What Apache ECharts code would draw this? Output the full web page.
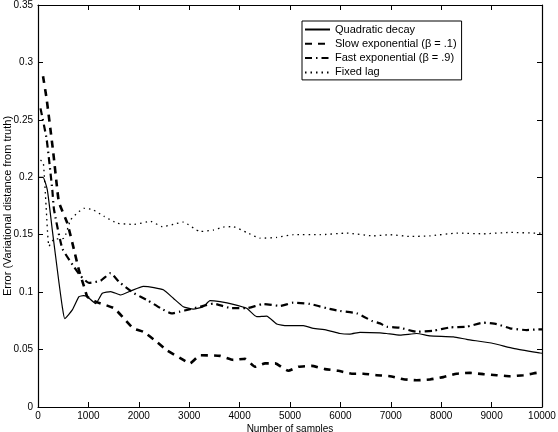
<!DOCTYPE html>
<html>
<head>
<meta charset="utf-8">
<script src="https://cdn.jsdelivr.net/npm/echarts@6/dist/echarts.min.js"></script>
<style>html,body{margin:0;padding:0;background:#fff}#c{width:558px;height:432px}</style>
</head>
<body>
<div id="c"></div>
<script>
var seriesNames = ['Quadratic decay', 'Slow exponential (\u03b2 = .1)', 'Fast exponential (\u03b2 = .9)', 'Fixed lag'];

var quadX = [0, 100, 185, 284, 350, 417, 483, 530, 681, 813, 900, 979, 1144, 1276, 1441, 1640, 1839, 2090, 2300, 2487, 2685, 2883, 3081, 3280, 3413, 3611, 3875, 4140, 4339, 4537, 4736, 4934, 5265, 5463, 5728, 5992, 6190, 6389, 6786, 6918, 7183, 7513, 7778, 8241, 8506, 9034, 9431, 9960, 10000];
var quadY = [0.2, 0.2, 0.189, 0.154, 0.131, 0.108, 0.087, 0.077, 0.0845, 0.096, 0.097, 0.096, 0.090, 0.099, 0.1005, 0.0975, 0.101, 0.105, 0.104, 0.102, 0.0947, 0.0873, 0.0853, 0.0873, 0.0926, 0.0917, 0.0894, 0.0859, 0.0786, 0.0792, 0.0722, 0.0708, 0.0708, 0.0685, 0.067, 0.064, 0.0635, 0.065, 0.0646, 0.064, 0.0626, 0.064, 0.062, 0.0611, 0.0589, 0.0553, 0.051, 0.047, 0.0468];

var slowX = [100, 172, 304, 383, 417, 582, 714, 813, 913, 979, 1144, 1508, 1706, 1891, 2090, 2355, 2554, 2883, 3016, 3214, 3611, 3875, 4107, 4306, 4505, 4704, 4967, 5165, 5430, 5694, 5959, 6224, 6455, 6720, 6984, 7249, 7513, 7778, 8042, 8307, 8571, 8836, 9101, 9365, 9630, 9894, 10000];
var slowY = [0.288, 0.268, 0.221, 0.189, 0.178, 0.16, 0.137, 0.119, 0.105, 0.096, 0.0917, 0.086, 0.077, 0.0685, 0.0655, 0.0568, 0.0495, 0.041, 0.038, 0.045, 0.0445, 0.041, 0.042, 0.035, 0.038, 0.038, 0.0315, 0.035, 0.0358, 0.033, 0.0315, 0.029, 0.029, 0.0277, 0.0268, 0.0242, 0.0233, 0.024, 0.026, 0.029, 0.0297, 0.0286, 0.0277, 0.0268, 0.0277, 0.0297, 0.03];

var fastX = [50, 172, 284, 317, 483, 714, 847, 1012, 1243, 1441, 1607, 1905, 2169, 2434, 2650, 2817, 3000, 3214, 3479, 3843, 4140, 4471, 4802, 5066, 5397, 5728, 5992, 6323, 6621, 6786, 6918, 7183, 7513, 7844, 8175, 8506, 8836, 9101, 9365, 9696, 9927, 10000];
var fastY = [0.26, 0.233, 0.189, 0.172, 0.138, 0.122, 0.114, 0.108, 0.11, 0.1165, 0.109, 0.099, 0.093, 0.086, 0.0815, 0.083, 0.085, 0.0873, 0.090, 0.086, 0.086, 0.0897, 0.088, 0.0908, 0.0897, 0.086, 0.0836, 0.0816, 0.0751, 0.0728, 0.0699, 0.069, 0.0655, 0.0664, 0.0693, 0.0699, 0.0734, 0.0722, 0.0685, 0.067, 0.0676, 0.0676];

var lagX = [50, 106, 160, 218, 317, 516, 648, 780, 913, 1078, 1310, 1574, 1905, 2236, 2467, 2685, 2883, 3214, 3479, 3677, 3875, 4140, 4405, 4736, 5066, 5595, 6124, 6653, 6984, 7381, 7778, 8307, 8836, 9365, 9894, 10000];
var lagY = [0.215, 0.2126, 0.175, 0.14, 0.146, 0.147, 0.163, 0.169, 0.173, 0.172, 0.166, 0.16, 0.159, 0.1616, 0.157, 0.159, 0.161, 0.1528, 0.154, 0.1567, 0.157, 0.152, 0.147, 0.1476, 0.15, 0.15, 0.1514, 0.149, 0.15, 0.1485, 0.149, 0.1514, 0.1508, 0.152, 0.1514, 0.1514];

var xTicks = [0, 1000, 2000, 3000, 4000, 5000, 6000, 7000, 8000, 9000, 10000];
var yTicks = [0, 0.05, 0.1, 0.15, 0.2, 0.25, 0.3, 0.35];

function pairs(xs, ys) { return xs.map(function (x, i) { return [x, ys[i]]; }); }

var FONT = 'Liberation Sans';
var lineStyles = [
  { color: '#000', width: 1.2, type: 'solid' },
  { color: '#000', width: 2.6, type: [7, 6] },
  { color: '#000', width: 2.2, type: [7, 4, 1.5, 4] },
  { color: '#000', width: 1.3, type: [1.5, 4] }
];
var datasets = [pairs(quadX, quadY), pairs(slowX, slowY), pairs(fastX, fastY), pairs(lagX, lagY)];

function axisCommon(show) {
  return {
    type: 'value',
    axisLine: { show: true, onZero: false, lineStyle: { color: '#000', width: 1.2 } },
    axisTick: { show: true, inside: true, length: 5, lineStyle: { color: '#000', width: 1 } },
    splitLine: { show: false },
    axisLabel: { show: show, color: '#000', fontFamily: FONT, fontSize: 10 }
  };
}

var xMain = axisCommon(true);
xMain.min = xTicks[0]; xMain.max = xTicks[xTicks.length - 1]; xMain.interval = 1000;
xMain.position = 'bottom';
xMain.axisLabel.margin = 4;
xMain.axisLabel.formatter = function (v) { return String(v); };
xMain.name = 'Number of samples';
xMain.nameLocation = 'middle';
xMain.nameGap = 17;
xMain.nameMoveOverlap = false;
xMain.nameTextStyle = { color: '#000', fontFamily: FONT, fontSize: 10 };

var xTop = axisCommon(false);
xTop.min = xTicks[0]; xTop.max = xTicks[xTicks.length - 1]; xTop.interval = 1000;
xTop.position = 'top';

var yMain = axisCommon(true);
yMain.min = yTicks[0]; yMain.max = yTicks[yTicks.length - 1]; yMain.interval = 0.05;
yMain.position = 'left';
yMain.axisLabel.margin = 5;
yMain.axisLabel.formatter = function (v) { return String(+v.toFixed(2)); };
yMain.name = 'Error (Variational distance from truth)';
yMain.nameLocation = 'middle';
yMain.nameGap = 25;
yMain.nameMoveOverlap = false;
yMain.nameTextStyle = { color: '#000', fontFamily: FONT, fontSize: 11 };

var yRight = axisCommon(false);
yRight.min = yTicks[0]; yRight.max = yTicks[yTicks.length - 1]; yRight.interval = 0.05;
yRight.position = 'right';

var chart = echarts.init(document.getElementById('c'), null, { renderer: 'canvas' });
chart.setOption({
  animation: false,
  backgroundColor: '#fff',
  grid: { left: 38, right: 16, top: 5, bottom: 25, containLabel: false, outerBoundsMode: 'none' },
  legend: {
    orient: 'vertical',
    left: 302,
    top: 21,
    padding: [3, 5, 2, 2],
    itemGap: 3.3,
    itemWidth: 25,
    itemHeight: 10.5,
    borderColor: '#000',
    borderWidth: 1,
    backgroundColor: '#fff',
    itemStyle: { opacity: 0 },
    textStyle: { color: '#000', fontFamily: FONT, fontSize: 11 },
    data: seriesNames
  },
  xAxis: [xMain, xTop],
  yAxis: [yMain, yRight],
  series: seriesNames.map(function (n, i) {
    return {
      name: n,
      type: 'line',
      xAxisIndex: 0,
      yAxisIndex: 0,
      data: datasets[i],
      symbol: 'none',
      smooth: 0.15,
      lineStyle: lineStyles[i],
      itemStyle: { color: '#000' },
      z: 3 + i
    };
  })
});
</script>
</body>
</html>
